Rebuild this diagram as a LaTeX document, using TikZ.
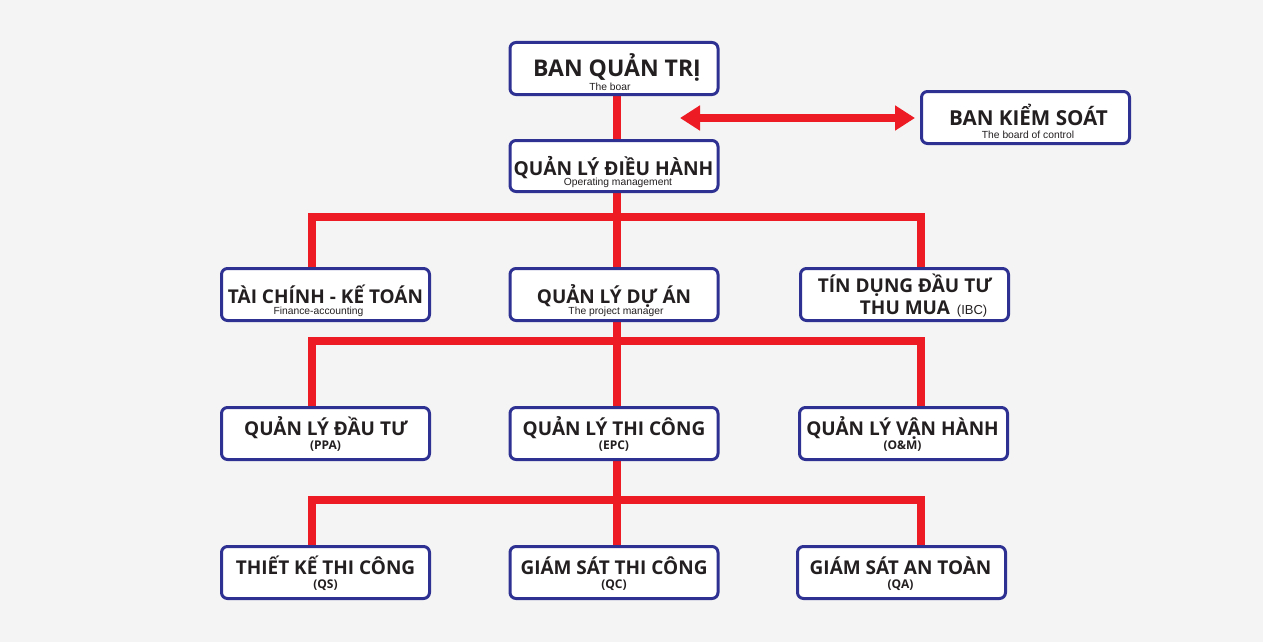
\documentclass[tikz,border=0pt]{standalone}
\usepackage{fontspec}
\setmainfont{Open Sans}
\newfontfamily\arialf{Liberation Sans}
\usetikzlibrary{arrows.meta,calc,backgrounds}
\definecolor{bg}{HTML}{F4F4F4}
\definecolor{navy}{HTML}{2E3192}
\definecolor{redl}{HTML}{ED1C24}
\definecolor{txt}{HTML}{231F20}
\tikzset{
 box/.style={draw=navy, line width=3pt, rounded corners=6pt, fill=white, minimum width=208pt, minimum height=52pt, outer sep=0pt, inner sep=0pt},
 ttl/.style={font=\fontsize{19}{22}\selectfont\bfseries, text=txt, inner sep=0pt, anchor=base},
 sub/.style={font=\arialf\fontsize{10.3}{12}\selectfont, text=txt, inner sep=0pt, anchor=base},
 codet/.style={font=\fontsize{12}{13}\selectfont\bfseries, text=txt, inner sep=0pt, anchor=base},
 redline/.style={draw=redl, line width=8.5pt, line join=miter},
}
\begin{document}
\begin{tikzpicture}[x=1pt,y=-1pt]
\useasboundingbox (0,0) rectangle (1263,642);
% boxes
\node[box] (b1) at (614,68.5) {};
\node[box, minimum height=51pt] (b2) at (614,166) {};
\node[box] (bks) at (1025.5,117.5) {};
\node[box] (ta) at (325.5,294.5) {};
\node[box] (pm) at (614,294.5) {};
\node[box] (tin) at (904.5,294.5) {};
\node[box] (qdt) at (325.5,433.5) {};
\node[box] (qtc) at (614,433.5) {};
\node[box] (qvh) at (903.5,433.5) {};
\node[box] (tk) at (325.5,572.5) {};
\node[box] (gs) at (614,572.5) {};
\node[box] (ga) at (901.5,572.5) {};
% texts
\node[ttl, font=\fontsize{23}{26}\selectfont\bfseries] (t1) at ($(b1.center)+(3,8.5)$) {BAN QUẢN TRỊ};
\node[sub] (s1) at ($(b1.center)+(-4,21.5)$) {The boar};
\node[ttl, font=\fontsize{19.2}{22}\selectfont\bfseries, text depth=2pt] (t2) at ($(b2.center)+(-0.5,9)$) {QUẢN LÝ ĐIỀU HÀNH};
\node[sub] (s2) at ($(b2.center)+(4,19.5)$) {Operating management};
\node[ttl, font=\fontsize{20.6}{24}\selectfont\bfseries] (tks) at ($(bks.center)+(3,7.5)$) {BAN KIỂM SOÁT};
\node[sub] (sks) at ($(bks.center)+(2.5,20.5)$) {The board of control};
\node[ttl] (tta) at ($(ta.center)+(0,9)$) {TÀI CHÍNH - KẾ TOÁN};
\node[sub] (sta) at ($(ta.center)+(-7,20)$) {Finance-accounting};
\node[ttl] (tpm) at ($(pm.center)+(0,9)$) {QUẢN LÝ DỰ ÁN};
\node[sub] (spm) at ($(pm.center)+(2,20)$) {The project manager};
\node[ttl] (ttin1) at ($(tin.center)+(0.5,-2.5)$) {TÍN DỤNG ĐẦU TƯ};
\node[ttl] (ttin2) at ($(tin.center)+(0.5,19.5)$) {THU MUA};
\node[sub, anchor=base west, font=\arialf\fontsize{13}{15}\selectfont] (stin) at ($(ttin2.base east)+(6.5,0)$) {(IBC)};
\node[ttl] (tqdt) at ($(qdt.center)+(0.5,2)$) {QUẢN LÝ ĐẦU TƯ};
\node[codet] (sqdt) at ($(qdt.center)+(0,15.5)$) {(PPA)};
\node[ttl] (tqtc) at ($(qtc.center)+(0,2)$) {QUẢN LÝ THI CÔNG};
\node[codet] (sqtc) at ($(qtc.center)+(0,15.5)$) {(EPC)};
\node[ttl] (tqvh) at ($(qvh.center)+(-1,2)$) {QUẢN LÝ VẬN HÀNH};
\node[codet] (sqvh) at ($(qvh.center)+(-1,15.5)$) {(O\&M)};
\node[ttl] (ttk) at ($(tk.center)+(0,2)$) {THIẾT KẾ THI CÔNG};
\node[codet] (stk) at ($(tk.center)+(0,16)$) {(QS)};
\node[ttl] (tgs) at ($(gs.center)+(0,2)$) {GIÁM SÁT THI CÔNG};
\node[codet] (sgs) at ($(gs.center)+(0,16)$) {(QC)};
\node[ttl] (tga) at ($(ga.center)+(-1,2)$) {GIÁM SÁT AN TOÀN};
\node[codet] (sga) at ($(ga.center)+(-1,16)$) {(QA)};
% junctions
\coordinate (sp) at (617,0);
\coordinate (j1L) at (312,217);
\coordinate (j1R) at (921,217);
\coordinate (j2L) at (312,341);
\coordinate (j2R) at (921,341);
\coordinate (j3L) at (312,500);
\coordinate (j3R) at (921,500);
\coordinate (arL) at (680,118);
\begin{scope}[on background layer]
\fill[bg] (0,0) rectangle (1263,642);
\draw[redline] (b1.south -| sp) -- (b2.north -| sp);
\draw[redline] (b2.south -| sp) -- (pm.north -| sp);
\draw[redline] (ta.north -| j1L) -- (j1L) -- (j1R) -- (tin.north -| j1R);
\draw[redline] (pm.south -| sp) -- (qtc.north -| sp);
\draw[redline] (qdt.north -| j2L) -- (j2L) -- (j2R) -- (qvh.north -| j2R);
\draw[redline] (qtc.south -| sp) -- (gs.north -| sp);
\draw[redline] (tk.north -| j3L) -- (j3L) -- (j3R) -- (ga.north -| j3R);
\end{scope}
\draw[redl, line width=8pt, {Triangle[length=20pt,width=24pt]}-{Triangle[length=20pt,width=24pt]}, shorten >=6.5pt] (arL) -- (bks.west |- arL);
\end{tikzpicture}
\end{document}
